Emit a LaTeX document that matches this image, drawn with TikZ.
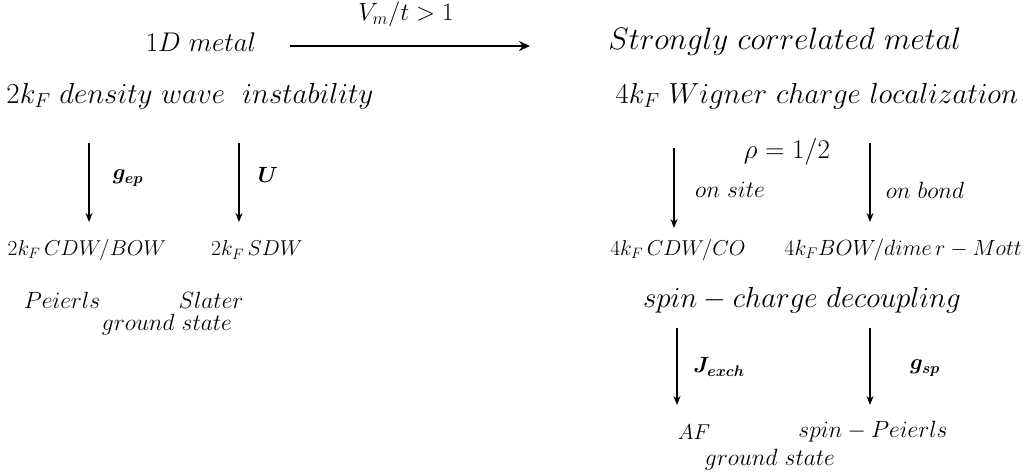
\RequirePackage{fix-cm}
\documentclass[tikz,border=0pt]{standalone}
\usepackage{amsmath}
\usepackage{bm}
\usetikzlibrary{arrows.meta}
\begin{document}
\begin{tikzpicture}[x=1pt,y=-1pt,
  big/.style={font=\fontsize{29}{34}\selectfont, inner sep=0pt},
  mid/.style={font=\fontsize{21.5}{26}\selectfont, inner sep=0pt},
  low/.style={font=\fontsize{23.5}{28}\selectfont, inner sep=0pt},
  lab/.style={font=\fontsize{22}{26}\selectfont, inner sep=0pt},
  varr/.style={line width=1.3pt, -{Stealth[length=9pt,width=7pt]}},
  harr/.style={line width=2.6pt, -{Stealth[length=11pt,width=10pt]}}]
\path[use as bounding box] (0,0) rectangle (1031,475);
% top row
\node[big, font=\fontsize{27}{32}\selectfont] (metal) at (201,42) {$1D\ metal$};
\node[big, font=\fontsize{31}{36}\selectfont] (scm) at (785,42) {$Strongly\ correlated\ metal$};
\node[big, font=\fontsize{25}{30}\selectfont] (vt) at (406,14) {$V_m/t>1$};
\coordinate (h1) at (290,46);
\coordinate (h2) at (530,46);
\draw[harr] (h1) -- (h2);
% left column
\node[big] (dw) at (190,96) {$2k_F\ density\ wave\ \ instability$};
\coordinate (a1s) at (89,143); \coordinate (a1e) at (89,222);
\coordinate (a2s) at (239,143); \coordinate (a2e) at (239,222);
\draw[varr] (a1s) -- (a1e);
\draw[varr] (a2s) -- (a2e);
\node[lab] (gep) at (128,178) {$\bm{g_{ep}}$};
\node[lab] (U) at (268,175) {$\bm{U}$};
\node[mid] (cdw) at (87,250) {$2k_F\,CDW/BOW$};
\node[mid] (sdw) at (257,250) {$2k_F\,SDW$};
\node[low] (peierls) at (62,300) {$Peierls$};
\node[low] (slater) at (211,300) {$Slater$};
\node[low] (gs1) at (167,325) {$ground\ state$};
% right column
\node[big] (wig) at (817,96) {$4k_F\ Wigner\ charge\ localization$};
\node[low, font=\fontsize{27}{32}\selectfont] (rho) at (787,152) {$\rho=1/2$};
\coordinate (a3s) at (674,148); \coordinate (a3e) at (674,228);
\coordinate (a4s) at (870,143); \coordinate (a4e) at (870,222);
\draw[varr] (a3s) -- (a3e);
\draw[varr] (a4s) -- (a4e);
\node[low] (onsite) at (730,190) {$on\ site$};
\node[low] (onbond) at (925,190) {$on\ bond$};
\node[mid] (cdwco) at (678,250) {$4k_F\,CDW/CO$};
\node[mid, font=\fontsize{22}{26}\selectfont] (bow) at (903,250) {$4k_FBOW/dime\,r-Mott$};
\node[big] (scd) at (802,300) {$spin-charge\ decoupling$};
\coordinate (a5s) at (677,328); \coordinate (a5e) at (677,405);
\coordinate (a6s) at (870,328); \coordinate (a6e) at (870,405);
\draw[varr] (a5s) -- (a5e);
\draw[varr] (a6s) -- (a6e);
\node[lab] (jex) at (719,367) {$\bm{J_{exch}}$};
\node[lab] (gsp) at (925,368) {$\bm{g_{sp}}$};
\node[mid] (af) at (694,432) {$AF$};
\node[low] (sp) at (873,432) {$spin-Peierls$};
\node[low] (gs2) at (770,460) {$ground\ state$};
\end{tikzpicture}
\end{document}
